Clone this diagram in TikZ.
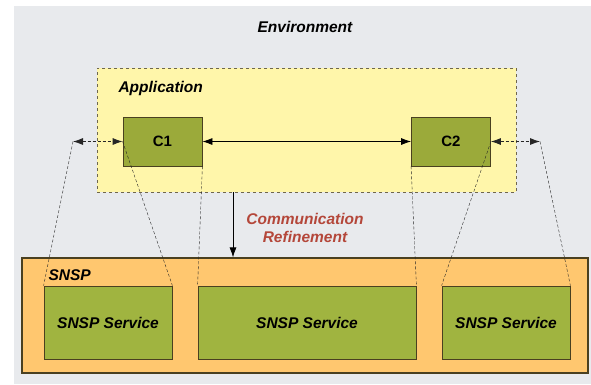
\documentclass[tikz,border=0pt]{standalone}
\usepackage{fontspec}
\setmainfont{Liberation Sans}
\usetikzlibrary{arrows.meta}

\definecolor{envgray}{HTML}{E8EAED}
\definecolor{appyellow}{HTML}{FFF6AA}
\definecolor{compgreen}{HTML}{9BAA3A}
\definecolor{servgreen}{HTML}{A0B440}
\definecolor{snsporange}{HTML}{FFC76F}
\definecolor{darkline}{HTML}{4A4020}
\definecolor{refred}{HTML}{B4473A}

\tikzset{
    txt/.style={font=\fontsize{15.5}{18}\selectfont\bfseries\itshape},
    comp/.style={draw=darkline, thick, fill=compgreen, minimum width=79pt, minimum height=49pt,
        inner sep=0pt, font=\fontsize{15}{17}\selectfont\bfseries},
    service/.style={draw=darkline, thick, fill=servgreen, minimum height=73pt, inner sep=0pt, txt},
    link/.style={black!85, densely dashed, thin},
    >={Latex[length=10pt,width=7pt]}
}

\begin{document}
\begin{tikzpicture}[x=1pt,y=-1pt]
        \useasboundingbox (0,0) rectangle (591,384);
        \fill[envgray] (14,6) rectangle (591,384);
        \node[txt] (env) at (305,27) {Environment};

        % application layer
        \node[draw=darkline!80, dashed, thick, fill=appyellow, minimum width=419pt, minimum height=124pt,
            inner sep=0pt] (app) at (306.5,130) {};
        \node[txt, anchor=west] (apptitle) at (115,88) {Application};
        \node[comp] (c1) at (162.5,141.5) {C1};
        \node[comp] (c2) at (451,141.5) {C2};

        % SNSP layer
        \node[draw=darkline, very thick, fill=snsporange, minimum width=566pt, minimum height=115pt,
            inner sep=0pt] (snsp) at (305,315.5) {};
        \node[txt, anchor=west] (snsptitle) at (45,275) {SNSP};
        \node[service, minimum width=128pt] (s1) at (108,322.5) {SNSP Service};
        \node[service, minimum width=218pt] (s2) at (307,322.5) {SNSP Service};
        \node[service, minimum width=128pt] (s3) at (506,322.5) {SNSP Service};

        % connections
        \coordinate (pl) at (73,141.5);
        \coordinate (pr) at (540,141.5);
        \coordinate (ref) at (233,0);
        \draw[thick, <->] (c1.east) -- (c2.west);
        \draw[link, thick, <->] (pl) -- (c1.west);
        \draw[link, thick, <->] (c2.east) -- (pr);
        \draw[link] (pl) -- (s1.north west);
        \draw[link] (c1.west) -- (s1.north east);
        \draw[link] (c1.south east) -- (s2.north west);
        \draw[link] (c2.south west) -- (s2.north east);
        \draw[link] (c2.east) -- (s3.north west);
        \draw[link] (pr) -- (s3.north east);
        \draw[thick, ->] (app.south -| ref) -- (snsp.north -| ref);
        \node[txt, text=refred, align=center] (refine) at (305,228) {Communication\\Refinement};
    \end{tikzpicture}
\end{document}
